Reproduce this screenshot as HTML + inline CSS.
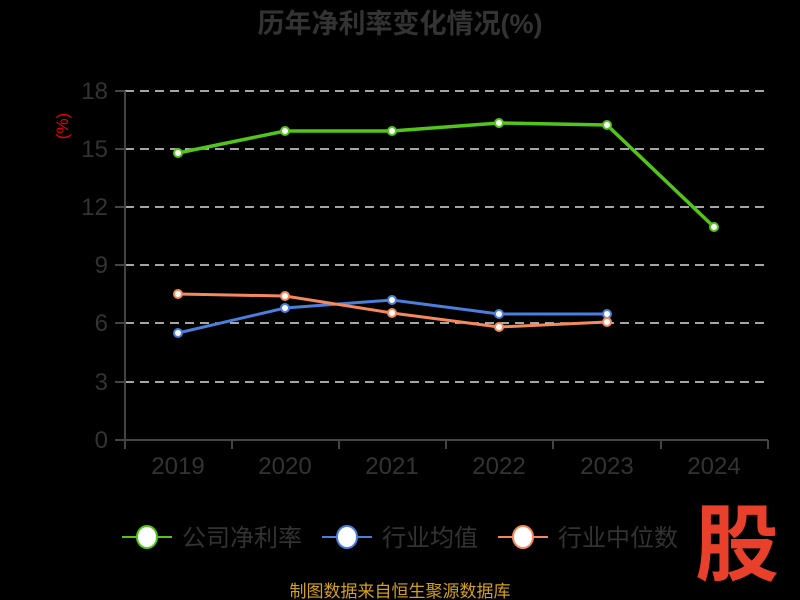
<!DOCTYPE html>
<html><head><meta charset="utf-8"><style>
body{margin:0;background:#000;}
svg{display:block;font-family:"Liberation Sans","Noto Sans CJK SC",sans-serif;}
</style></head><body>
<svg width="800" height="600" xmlns="http://www.w3.org/2000/svg">
<rect width="800" height="600" fill="#000"/>
<text x="400" y="33" text-anchor="middle" font-size="27" font-weight="bold" fill="#333">历年净利率变化情况(%)</text>
<g stroke="#ddd" stroke-width="1.5" stroke-dasharray="9,6">
<line x1="125" y1="91" x2="768" y2="91"/><line x1="125" y1="149" x2="768" y2="149"/>
<line x1="125" y1="207" x2="768" y2="207"/><line x1="125" y1="265" x2="768" y2="265"/>
<line x1="125" y1="323" x2="768" y2="323"/><line x1="125" y1="382" x2="768" y2="382"/>
</g>
<g stroke="#444" stroke-width="2">
<line x1="125" y1="91" x2="125" y2="440"/><line x1="125" y1="440" x2="768" y2="440"/>
<line x1="115" y1="91" x2="125" y2="91"/><line x1="115" y1="149" x2="125" y2="149"/><line x1="115" y1="207" x2="125" y2="207"/><line x1="115" y1="265" x2="125" y2="265"/><line x1="115" y1="323" x2="125" y2="323"/><line x1="115" y1="382" x2="125" y2="382"/><line x1="115" y1="440" x2="125" y2="440"/>
<line x1="125" y1="440" x2="125" y2="449"/><line x1="232" y1="440" x2="232" y2="449"/><line x1="339" y1="440" x2="339" y2="449"/><line x1="446" y1="440" x2="446" y2="449"/><line x1="553" y1="440" x2="553" y2="449"/><line x1="661" y1="440" x2="661" y2="449"/><line x1="768" y1="440" x2="768" y2="449"/>
</g>
<g font-size="24" fill="#333" text-anchor="end">
<text x="108" y="99">18</text><text x="108" y="157">15</text><text x="108" y="215">12</text><text x="108" y="273">9</text><text x="108" y="331">6</text><text x="108" y="390">3</text><text x="108" y="448">0</text>
</g>
<g font-size="24" fill="#333" text-anchor="middle">
<text x="178" y="474">2019</text><text x="285" y="474">2020</text><text x="392" y="474">2021</text><text x="499" y="474">2022</text><text x="607" y="474">2023</text><text x="714" y="474">2024</text>
</g>
<text transform="translate(68,126) rotate(-90)" text-anchor="middle" font-size="17" fill="#e00">(%)</text>
<polyline fill="none" stroke="#52c41a" stroke-width="3.5" points="178,153 285,131 392,131 499,123 607,125 714,227"/>
<polyline fill="none" stroke="#4a7fdc" stroke-width="3" points="178,333 285,308 392,300 499,314 607,314"/>
<polyline fill="none" stroke="#f5895c" stroke-width="3" points="178,294 285,296 392,313 499,327 607,322"/>
<g fill="#fff" stroke="#52c41a" stroke-width="2"><circle cx="178" cy="153" r="4"/><circle cx="285" cy="131" r="4"/><circle cx="392" cy="131" r="4"/><circle cx="499" cy="123" r="4"/><circle cx="607" cy="125" r="4"/><circle cx="714" cy="227" r="4"/></g>
<g fill="#fff" stroke="#4a7fdc" stroke-width="2"><circle cx="178" cy="333" r="4"/><circle cx="285" cy="308" r="4"/><circle cx="392" cy="300" r="4"/><circle cx="499" cy="314" r="4"/><circle cx="607" cy="314" r="4"/></g>
<g fill="#fff" stroke="#f5895c" stroke-width="2"><circle cx="178" cy="294" r="4"/><circle cx="285" cy="296" r="4"/><circle cx="392" cy="313" r="4"/><circle cx="499" cy="327" r="4"/><circle cx="607" cy="322" r="4"/></g>
<g font-size="24" fill="#333">
<line x1="122" y1="537" x2="172" y2="537" stroke="#52c41a" stroke-width="2"/><ellipse cx="147" cy="537" rx="10" ry="11" fill="#fff" stroke="#52c41a" stroke-width="2"/><text x="182" y="546">公司净利率</text>
<line x1="322" y1="537" x2="372" y2="537" stroke="#4a7fdc" stroke-width="2"/><ellipse cx="347" cy="537" rx="10" ry="11" fill="#fff" stroke="#4a7fdc" stroke-width="2"/><text x="382" y="546">行业均值</text>
<line x1="498" y1="537" x2="548" y2="537" stroke="#f5895c" stroke-width="2"/><ellipse cx="523" cy="537" rx="10" ry="11" fill="#fff" stroke="#f5895c" stroke-width="2"/><text x="558" y="546">行业中位数</text>
</g>
<text x="737" y="574" text-anchor="middle" font-size="84" font-weight="bold" fill="#e8402a">股</text>
<text x="400" y="597" text-anchor="middle" font-size="17" fill="#d4a020">制图数据来自恒生聚源数据库</text>
</svg>
</body></html>
